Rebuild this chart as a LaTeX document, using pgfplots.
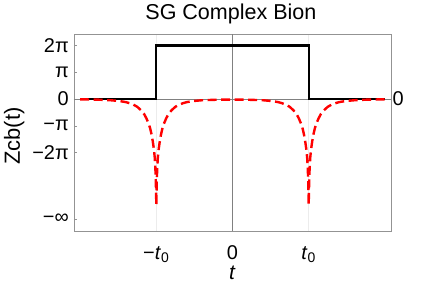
\documentclass[border=0pt]{standalone}
\usepackage{fontspec}
\setmainfont{Liberation Sans}
\usepackage{pgfplots}
\pgfplotsset{compat=1.18}
\begin{document}
\begin{tikzpicture}
\useasboundingbox (-74bp,-55bp) rectangle (363bp,231bp);
\begin{axis}[
  anchor=south west, at={(0,0)},
  scale only axis, width=317bp, height=197bp,
  xmin=-2.08, xmax=2.08, ymin=-4.93, ymax=2.43,
  axis line style={gray!85, line width=0.8bp},
  xtick={-1,0,1},
  xticklabels={−\textit{t}\textsubscript{0}, 0, \textit{t}\textsubscript{0}},
  ytick={-4.48,-2,-1,0,1,2},
  yticklabels={−∞,−2π,−π,0,π,2π},
  xtick pos=left, ytick pos=left,
  tick align=inside,
  major tick length=3bp,
  ytick style={gray!85, line width=0.6bp},
  xtick style={draw=none},
  xmajorgrids, grid style={gray!15, line width=1bp},
  yticklabel style={font=\fontsize{20}{24}\selectfont, anchor=east, inner sep=0pt, xshift=-5bp},
  xticklabel style={font=\fontsize{20}{24}\selectfont, anchor=base, inner sep=0pt, yshift=-28bp},
  title={SG Complex Bion},
  title style={font=\fontsize{21.6}{24}\selectfont, at={(0.495,1)}, anchor=base, inner sep=0pt, yshift=9bp},
  xlabel={\textit{t}},
  xlabel style={font=\fontsize{21}{24}\selectfont, at={(axis description cs:0.5,0)}, anchor=base, inner sep=0pt, yshift=-48bp},
  ylabel={Zcb(t)},
  ylabel style={font=\fontsize{22}{24}\selectfont, at={(axis description cs:-0.189,0.482)}, anchor=center, inner sep=0pt},
  clip=false,
]
% zero lines
\addplot[gray, line width=1bp] coordinates {(0,-4.93) (0,2.43)};
\addplot[gray, line width=0.8bp] coordinates {(-2.08,0) (2.08,0)};
% black step
\addplot[black, line width=2.4bp] coordinates {
(-2,0) (-1,0) (-1,2) (1,2) (1,0) (2,0)};
% red dashed
\addplot[red, line width=2.4bp, dash pattern=on 9bp off 4.5bp, line join=round] coordinates {
(-2,-0.01) (-1.8,-0.02) (-1.7,-0.03) (-1.6,-0.045) (-1.5,-0.07) (-1.45,-0.09)
(-1.4,-0.115) (-1.35,-0.155) (-1.3,-0.21) (-1.25,-0.29) (-1.2,-0.42) (-1.16,-0.56)
(-1.13,-0.72) (-1.1,-0.92) (-1.08,-1.1) (-1.06,-1.35) (-1.045,-1.6) (-1.03,-1.9)
(-1.02,-2.2) (-1.012,-2.6) (-1.006,-3.1) (-1.002,-3.6) (-1,-3.96)
(-0.998,-3.6) (-0.994,-3.1) (-0.988,-2.6) (-0.98,-2.2) (-0.97,-1.9) (-0.955,-1.6)
(-0.94,-1.35) (-0.92,-1.1) (-0.9,-0.92) (-0.87,-0.72) (-0.84,-0.56) (-0.8,-0.42)
(-0.75,-0.29) (-0.7,-0.21) (-0.65,-0.155) (-0.6,-0.115) (-0.55,-0.09) (-0.5,-0.07)
(-0.4,-0.045) (-0.3,-0.035) (-0.2,-0.025) (0,-0.02)
(0.2,-0.025) (0.3,-0.035) (0.4,-0.045) (0.5,-0.07) (0.55,-0.09) (0.6,-0.115)
(0.65,-0.155) (0.7,-0.21) (0.75,-0.29) (0.8,-0.42) (0.84,-0.56) (0.87,-0.72)
(0.9,-0.92) (0.92,-1.1) (0.94,-1.35) (0.955,-1.6) (0.97,-1.9) (0.98,-2.2)
(0.988,-2.6) (0.994,-3.1) (0.998,-3.6) (1,-3.96)
(1.002,-3.6) (1.006,-3.1) (1.012,-2.6) (1.02,-2.2) (1.03,-1.9) (1.045,-1.6)
(1.06,-1.35) (1.08,-1.1) (1.1,-0.92) (1.13,-0.72) (1.16,-0.56) (1.2,-0.42)
(1.25,-0.29) (1.3,-0.21) (1.35,-0.155) (1.4,-0.115) (1.45,-0.09) (1.5,-0.07)
(1.6,-0.045) (1.7,-0.03) (1.8,-0.02) (2,-0.01)};
\node[anchor=west, inner sep=0pt, xshift=1.5bp, font=\fontsize{20}{24}\selectfont] at (axis cs:2.08,0) {0};
\end{axis}
\end{tikzpicture}
\end{document}
